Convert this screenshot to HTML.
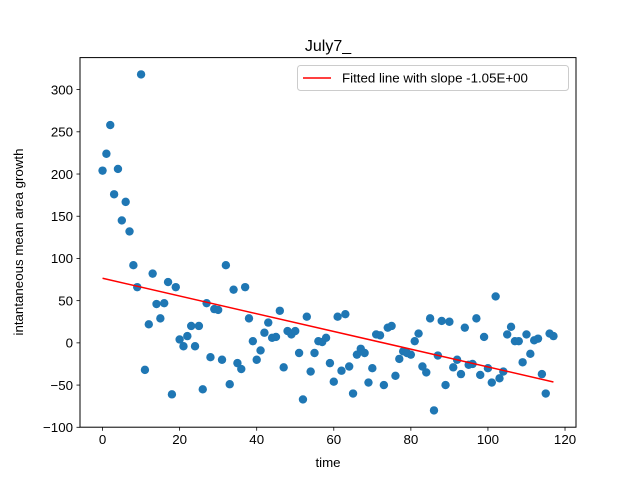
<!DOCTYPE html>
<html><head><meta charset="utf-8"><style>
html,body{margin:0;padding:0;background:#fff;}
svg text{font-family:"Liberation Sans","DejaVu Sans",sans-serif;fill:#000;}
</style></head><body>
<svg id="chart" width="640" height="480" xmlns="http://www.w3.org/2000/svg">
<rect width="640" height="480" fill="#fff"/>
<g id="plot"></g>
</svg>
<script>
const timeValues = [];
for (let i = 0; i < 118; i++) timeValues.push(i);
const growthValues = [204,224,258,176,206,145,167,132,92,66,318,-32,22,82,46,29,47,72,-61,66,4,-4,8,20,-4,20,-55,47,-17,40,39,-20,92,-49,63,-24,-31,66,29,2,-20,-9,12,24,6,7,38,-29,14,10,14,-12,-67,31,-34,-12,2,1,6,-24,-46,31,-33,34,-28,-60,-14,-7,-12,-47,-30,10,9,-50,18,20,-39,-19,-10,-12,-14,2,11,-28,-35,29,-80,-15,26,-50,25,-29,-20,-37,18,-26,-25,29,-38,7,-30,-47,55,-42,-34,10,19,2,2,-23,10,-13,3,5,-37,-60,11,8];
const fitParams = [-1.05, 76.5];
const xTicks = [0,20,40,60,80,100,120];
const yTicks = [-100,-50,0,50,100,150,200,250,300];

const L=80,R=576,T=57.6,B=427.2;
const xmin=-5.85,xmax=122.85,ymin=-99.9,ymax=337.9;
const sx=v=>L+(v-xmin)/(xmax-xmin)*(R-L);
const sy=v=>B-(v-ymin)/(ymax-ymin)*(B-T);
const NS="http://www.w3.org/2000/svg";
const g=document.getElementById('plot');
function mk(tag,attrs,parent){const e=document.createElementNS(NS,tag);for(const k in attrs)e.setAttribute(k,attrs[k]);(parent||g).appendChild(e);return e;}

const pts=mk('g',{});


timeValues.forEach((t,i)=>{
  const c=mk('circle',{cx:sx(t),cy:sy(growthValues[i]),r:4.2,fill:'#1f77b4'},pts);
  
  
});
const x0=timeValues[0],x1=timeValues[timeValues.length-1];
const fl=mk('line',{x1:sx(x0),y1:sy(fitParams[1]+fitParams[0]*x0),x2:sx(x1),y2:sy(fitParams[1]+fitParams[0]*x1),stroke:'#ff0000','stroke-width':1.5});



const frame=mk('rect',{x:L,y:T,width:R-L,height:B-T,fill:'none',stroke:'#000','stroke-width':1});



xTicks.forEach(v=>{
  const x=sx(v);
  mk('line',{x1:x,y1:B,x2:x,y2:B+3.5,stroke:'#000','stroke-width':0.8});
  const t=mk('text',{x:x,y:B+17,'text-anchor':'middle','font-size':'13.3'});
  t.textContent=v;
  
  
});
yTicks.forEach(v=>{
  const y=sy(v);
  mk('line',{x1:L-3.5,y1:y,x2:L,y2:y,stroke:'#000','stroke-width':0.8});
  const t=mk('text',{x:L-7,y:y+4.8,'text-anchor':'end','font-size':'13.3'});
  t.textContent=v<0?'\u2212'+(-v):v;
  
  
});

const title=mk('text',{x:328,y:51,'text-anchor':'middle','font-size':'16'});
title.textContent='July7_';


const xl=mk('text',{x:328,y:467,'text-anchor':'middle','font-size':'13.3'});
xl.textContent='time';


const yl=mk('text',{x:0,y:0,'text-anchor':'middle','font-size':'13.3',transform:'translate(23,242) rotate(-90)'});
yl.textContent='intantaneous mean area growth';



const lg=mk('g',{});


mk('rect',{x:297.5,y:65.5,width:271,height:25,rx:3,fill:'#fff','fill-opacity':0.8,stroke:'#ccc'},lg);
mk('line',{x1:303,y1:78,x2:331,y2:78,stroke:'#ff0000','stroke-width':1.5},lg);
const lt=mk('text',{x:342,y:82.5,'font-size':'13.3'},lg);
lt.textContent='Fitted line with slope '+fitParams[0].toExponential(2).toUpperCase().replace(/E([+-])(\d)$/,'E$10$2');


</script>
</body></html>
